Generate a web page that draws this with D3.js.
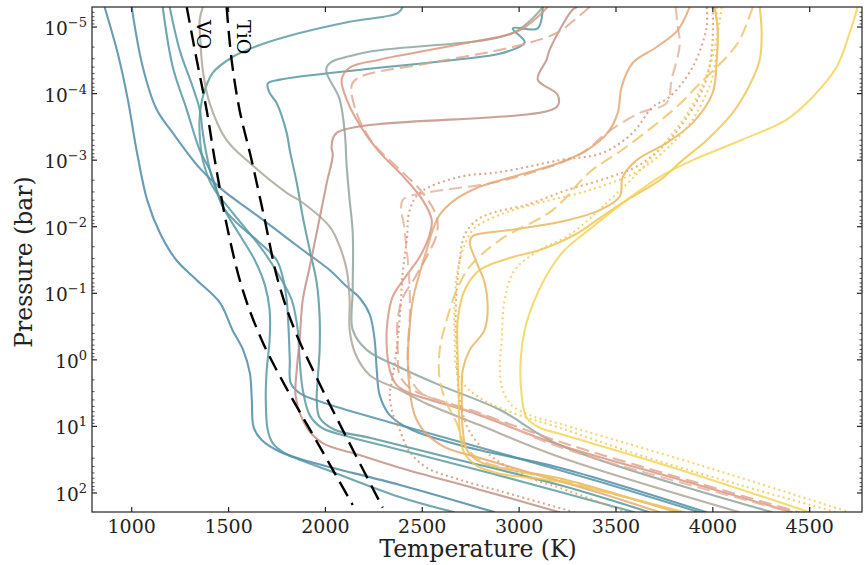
<!DOCTYPE html>
<html><head><meta charset="utf-8">
<script src="https://cdn.jsdelivr.net/npm/d3@7"></script>
<style>
body{margin:0;background:#fff;}
svg{display:block;}
text{font-family:"DejaVu Serif",serif;fill:#222;}
</style></head><body>
<svg id="chart" width="865" height="565"></svg>
<script>
// ---------- axis settings / ticks ----------
const xTicks = [1000, 1500, 2000, 2500, 3000, 3500, 4000, 4500];
const yTickExponents = [-5, -4, -3, -2, -1, 0, 1, 2];
const tempDomain = [795, 4770];        // K
const pressureDomain = [5e-6, 193];    // bar

// ---------- temperature-pressure profiles: [T (K), log10 P (bar)] ----------
const blue1   = [[860,-5.30],[930,-4.58],[980,-3.91],[1025,-3.15],[1080,-2.40],[1145,-1.91],[1230,-1.50],[1335,-1.20],[1455,-0.86],[1520,-0.45],[1575,-0.15],[1610,0.20],[1620,0.60],[1630,1.02],[1670,1.20],[1765,1.38],[1920,1.53],[2385,1.88],[2875,2.29]];
const blue2   = [[1000,-5.30],[1057,-4.40],[1129,-3.76],[1212,-3.41],[1351,-2.88],[1470,-2.55],[1609,-2.25],[1748,-1.95],[1883,-1.65],[2022,-1.35],[2100,-1.13],[2177,-0.93],[2229,-0.68],[2254,-0.30],[2265,0.15],[2280,0.53],[2332,0.83],[2445,1.05],[2745,1.32],[3209,1.62],[3968,2.29]];
const teal1   = [[1160,-5.30],[1212,-4.40],[1284,-3.76],[1351,-3.15],[1403,-2.85],[1439,-2.55],[1470,-2.30],[1542,-2.06],[1645,-1.80],[1748,-1.50],[1779,-1.25],[1800,-0.90],[1810,-0.45],[1816,0.00],[1821,0.35],[1867,0.50],[2007,0.66],[2383,0.98],[2900,1.40],[3416,1.83],[3932,2.29]];
const teal2   = [[1196,-5.30],[1248,-4.65],[1315,-4.10],[1351,-3.76],[1367,-3.41],[1382,-3.15],[1418,-2.70],[1480,-2.25],[1557,-1.88],[1635,-1.50],[1687,-1.13],[1712,-0.75],[1712,-0.30],[1697,0.15],[1692,0.60],[1702,1.05],[1728,1.25],[1790,1.40],[2007,1.65],[2383,2.06],[2667,2.29]];
const teal3   = [[2399,-5.30],[2373,-5.21],[2125,-5.08],[1867,-4.91],[1661,-4.73],[1521,-4.55],[1418,-4.31],[1367,-3.95],[1351,-3.65],[1351,-3.38],[1367,-3.00],[1418,-2.60],[1521,-2.21],[1676,-1.65],[1764,-1.25],[1826,-0.90],[1857,-0.45],[1867,0.00],[1883,0.45],[1919,0.83],[1981,1.02],[2125,1.16],[2383,1.35],[2900,1.74],[3597,2.29]];
const teal4   = [[3122,-5.30],[3096,-4.98],[2967,-4.98],[3029,-4.77],[2915,-4.61],[2796,-4.55],[1764,-4.21],[1702,-4.15],[1712,-4.01],[1748,-3.86],[1800,-3.41],[1816,-3.15],[1852,-2.66],[1883,-2.15],[1919,-1.65],[1955,-1.16],[1970,-0.65],[1970,-0.15],[1960,0.30],[1955,0.60],[1970,0.87],[2048,1.05],[2229,1.17],[2642,1.47],[3209,1.88],[3674,2.29]];
const grey1   = [[1367,-5.30],[1351,-5.11],[1356,-4.73],[1367,-4.35],[1403,-3.85],[1490,-3.30],[1609,-2.96],[1800,-2.51],[1883,-2.36],[2022,-2.00],[2074,-1.70],[2110,-1.35],[2125,-0.90],[2125,-0.45],[2156,-0.08],[2229,0.23],[2383,0.45],[2523,0.66],[2796,0.98],[3209,1.46],[4139,2.29]];
const grey2   = [[3122,-5.30],[2967,-4.91],[2192,-4.61],[2007,-4.40],[2074,-3.91],[2100,-3.41],[2110,-2.90],[2125,-2.40],[2141,-1.91],[2141,-1.05],[2141,-0.45],[2213,-0.15],[2383,0.11],[2590,0.38],[2900,0.75],[3209,1.28],[4309,2.29]];
const brown1  = [[3302,-5.30],[3276,-5.26],[3158,-4.66],[3142,-4.51],[3096,-4.21],[3199,-3.98],[3194,-3.80],[2058,-3.41],[2032,-3.20],[2038,-3.08],[2007,-2.66],[1955,-1.91],[1919,-1.40],[1883,-0.90],[1867,-0.30],[1852,0.15],[1847,0.56],[1903,1.01],[1986,1.25],[2177,1.43],[2383,1.62],[2796,1.95],[3209,2.29]];
const salmon1 = [[3147,-5.30],[3003,-4.95],[2745,-4.77],[2280,-4.51],[2125,-4.39],[2084,-4.21],[2110,-3.91],[2177,-3.53],[2270,-3.15],[2409,-2.73],[2502,-2.40],[2549,-2.10],[2538,-1.88],[2487,-1.55],[2409,-1.23],[2347,-0.95],[2321,-0.60],[2316,-0.23],[2332,0.15],[2368,0.38],[2435,0.50],[2538,0.60],[2745,0.78],[3209,1.28],[3829,1.80],[4412,2.29]];
const salmon2 = [[3364,-5.30],[3287,-5.11],[3194,-4.91],[2967,-4.70],[2538,-4.46],[2177,-4.25],[2136,-4.13],[2161,-3.71],[2244,-3.26],[2368,-2.90],[2502,-2.51],[2574,-2.15],[2574,-1.88],[2528,-1.58],[2461,-1.23],[2399,-0.93],[2373,-0.60],[2373,-0.15],[2383,0.23],[2435,0.42],[2538,0.56],[2745,0.75],[3209,1.23],[3829,1.77],[4448,2.29]];
const salmon3 = [[3808,-5.30],[3818,-5.03],[3829,-4.73],[3787,-4.21],[3762,-3.86],[3622,-3.71],[3452,-3.41],[3328,-3.11],[3106,-2.85],[2864,-2.66],[2523,-2.51],[2399,-2.40],[2409,-1.95],[2425,-1.50],[2435,-1.05],[2435,-0.60],[2425,-0.15],[2435,0.23],[2487,0.48],[2616,0.65],[2848,0.87],[3209,1.31],[4412,2.29]];
const salmon4 = [[3968,-5.30],[3968,-5.00],[3896,-4.40],[3777,-3.95],[3690,-3.80],[3586,-3.41],[3431,-3.11],[3209,-3.00],[2900,-2.82],[2693,-2.75],[2487,-2.51],[2435,-2.25],[2420,-1.80],[2399,-1.31],[2388,-0.80],[2373,-0.30],[2347,0.26],[2332,0.53],[2347,0.80],[2383,1.05],[2435,1.38],[2523,1.62],[2693,1.80],[2900,1.97],[3287,2.29]];
const orange1 = [[3880,-5.30],[3818,-4.95],[3710,-4.70],[3586,-4.46],[3529,-4.10],[3509,-3.71],[3457,-3.41],[3349,-3.15],[3209,-2.96],[3003,-2.78],[2796,-2.60],[2667,-2.40],[2590,-2.18],[2554,-1.95],[2523,-1.65],[2487,-1.31],[2451,-0.90],[2435,-0.50],[2425,0.00],[2435,0.45],[2461,0.83],[2512,1.08],[2616,1.31],[2781,1.46],[3039,1.68],[3416,2.00],[3726,2.29]];
const orange2 = [[3999,-5.30],[3999,-4.81],[3973,-4.28],[3906,-3.83],[3777,-3.31],[3622,-2.93],[3452,-2.73],[3246,-2.55],[3039,-2.33],[2864,-2.21],[2781,-2.10],[2719,-1.88],[2693,-1.50],[2678,-1.05],[2672,-0.60],[2678,-0.15],[2683,0.30],[2704,0.75],[2745,1.08],[2848,1.43],[3054,1.77],[3209,1.92],[3555,2.29]];
const amber1  = [[4009,-5.30],[4025,-4.95],[4020,-4.51],[3999,-4.01],[3896,-3.56],[3762,-3.26],[3607,-3.00],[3535,-2.75],[3519,-2.45],[3416,-2.25],[3209,-2.07],[2951,-1.95],[2760,-1.86],[2745,-1.77],[2781,-1.46],[2822,-1.16],[2838,-0.80],[2822,-0.45],[2745,-0.15],[2709,0.15],[2704,0.60],[2709,1.05],[2730,1.35],[2796,1.53],[2951,1.65],[3209,1.78],[3813,2.29]];
const yellow1 = [[4242,-5.30],[4252,-4.91],[4242,-4.51],[4190,-4.13],[4102,-3.71],[3968,-3.30],[3844,-3.00],[3726,-2.70],[3555,-2.40],[3416,-2.13],[3287,-1.88],[3106,-1.65],[2951,-1.53],[2796,-1.35],[2719,-1.05],[2683,-0.60],[2683,0.00],[2688,0.60],[2693,1.05],[2714,1.38],[2781,1.59],[2900,1.71],[3209,1.83],[3854,2.29]];
const yellow2 = [[4206,-5.30],[4139,-4.81],[4071,-4.55],[3932,-4.15],[3813,-3.80],[3710,-3.55],[3535,-3.16],[3364,-2.82],[3173,-2.25],[2900,-1.80],[2745,-1.40],[2678,-1.05],[2626,-0.60],[2590,-0.15],[2590,0.30],[2626,0.65],[2678,0.95],[2719,1.28],[2796,1.50],[3003,1.68],[3209,1.80],[3829,2.29]];
const yellow3 = [[4748,-5.30],[4706,-4.91],[4639,-4.40],[4515,-3.95],[4381,-3.61],[4154,-3.31],[3896,-3.00],[3726,-2.75],[3555,-2.40],[3380,-2.00],[3235,-1.65],[3158,-1.35],[3080,-0.90],[3029,-0.45],[3008,0.00],[3013,0.53],[3039,0.87],[3106,1.02],[3209,1.11],[3829,1.65],[4500,2.29]];
const yellow4 = [[4020,-5.30],[4025,-4.81],[3999,-4.25],[3968,-4.01],[3896,-3.61],[3793,-3.26],[3622,-2.85],[3364,-2.55],[3106,-2.36],[2900,-2.18],[2771,-1.98],[2719,-1.73],[2683,-1.35],[2667,-0.90],[2667,-0.30],[2678,0.15],[2719,0.38],[2796,0.57],[2951,0.78],[3209,1.02],[3622,1.43],[4139,1.88],[4639,2.29]];
const yellow5 = [[4046,-5.30],[3994,-4.51],[3880,-3.76],[3674,-3.00],[3467,-2.40],[3261,-1.88],[3106,-1.65],[2977,-1.35],[2925,-0.90],[2910,-0.30],[2900,0.15],[2915,0.45],[2961,0.68],[3054,0.83],[3209,0.96],[3932,1.58],[4706,2.29]];
// condensation curves
const voCurve  = [[1284,-5.30],[1336,-4.50],[1387,-3.75],[1429,-3.00],[1496,-1.95],[1573,-1.05],[1671,-0.30],[1790,0.38],[1960,1.25],[2141,2.18]];
const tioCurve = [[1490,-5.30],[1516,-4.50],[1557,-3.75],[1619,-3.00],[1687,-2.10],[1754,-1.20],[1841,-0.45],[1960,0.30],[2115,1.20],[2296,2.22]];

const profiles = [blue1, blue2, teal1, teal2, teal3, teal4, grey1, grey2, brown1,
                  salmon1, salmon2, salmon3, salmon4, orange1, orange2, amber1,
                  yellow1, yellow2, yellow3, yellow4, yellow5];
const profileColors = ["#4785a6","#4a89a6","#4d91a3","#5095a1","#55999e","#4f9499","#a9a295","#8aa29a","#bf8e82",
                       "#d9927e","#e0a48e","#e5b29a","#d69274","#e2a670","#dea25e","#e8b45c",
                       "#efc54e","#ecc46a","#f4d350","#f0c850","#f2cd55"];
const profileDash = ["","","","","","","","","",
                     "","13,6","13,6","2,3.3","","2,3.3","",
                     "","13,6","","2,3.3","2,3.3"];

// ---------- layout ----------
const M = {left: 92, right: 862, top: 7, bottom: 512};
const svg = d3.select("#chart");
const x = d3.scaleLinear().domain(tempDomain).range([M.left, M.right]);
const y = d3.scaleLog().domain(pressureDomain).range([M.top, M.bottom]);

svg.append("defs").append("clipPath").attr("id","clip")
  .append("rect").attr("x",M.left).attr("y",M.top)
  .attr("width",M.right-M.left).attr("height",M.bottom-M.top);

const line = d3.line()
  .x(d => x(d[0]))
  .y(d => y(Math.pow(10, d[1])))
  .curve(d3.curveCatmullRom.alpha(0.5));

const plot = svg.append("g").attr("clip-path","url(#clip)");
profiles.forEach((p, i) => {
  plot.append("path").datum(p)
    .attr("d", line)
    .attr("fill","none")
    .attr("stroke", profileColors[i])
    .attr("stroke-opacity", 0.82)
    .attr("stroke-width", 2.1)
    .attr("stroke-dasharray", profileDash[i] || null);
});
[voCurve, tioCurve].forEach(c => {
  plot.append("path").datum(c)
    .attr("d", line)
    .attr("fill","none")
    .attr("stroke","#000")
    .attr("stroke-width",2.4)
    .attr("stroke-dasharray","16,8");
});

// condensation labels
[["VO", voCurve], ["TiO", tioCurve]].forEach(([lab, c]) => {
  svg.append("text")
    .attr("transform", `translate(${x(c[0][0]) + 10},${y(1e-5) - 7}) rotate(90)`)
    .style("font-size","19px").style("fill","#000")
    .text(lab);
});

// ---------- frame & ticks ----------
const axisColor = "#222";
svg.append("rect").attr("x",M.left).attr("y",M.top)
  .attr("width",M.right-M.left).attr("height",M.bottom-M.top)
  .attr("fill","none").attr("stroke",axisColor).attr("stroke-width",1.2);

const tk = svg.append("g").attr("stroke",axisColor).attr("stroke-width",1.2);
xTicks.forEach(t => {
  const px = x(t);
  tk.append("line").attr("x1",px).attr("x2",px).attr("y1",M.bottom).attr("y2",M.bottom-5);
  tk.append("line").attr("x1",px).attr("x2",px).attr("y1",M.top).attr("y2",M.top+5);
  svg.append("text").attr("x",px).attr("y",533).attr("text-anchor","middle")
    .style("font-size","19px").text(t);
});
yTickExponents.forEach(e => {
  const py = y(Math.pow(10, e));
  tk.append("line").attr("x1",M.left).attr("x2",M.left+5).attr("y1",py).attr("y2",py);
  tk.append("line").attr("x1",M.right).attr("x2",M.right-5).attr("y1",py).attr("y2",py);
  const t = svg.append("text").attr("x",87).attr("y",py+8).attr("text-anchor","end")
    .style("font-size","18.5px");
  t.append("tspan").text("10");
  t.append("tspan").attr("dy",-8).style("font-size","13px")
    .text(e < 0 ? "\u2212" + (-e) : String(e));
});
// minor log ticks
for (let e = -6; e <= 2; e++) {
  for (let m = 2; m <= 9; m++) {
    const p = m * Math.pow(10, e);
    if (p < pressureDomain[0] || p > pressureDomain[1]) continue;
    const py = y(p);
    tk.append("line").attr("x1",M.left).attr("x2",M.left+2.5).attr("y1",py).attr("y2",py).attr("stroke-width",0.8);
    tk.append("line").attr("x1",M.right).attr("x2",M.right-2.5).attr("y1",py).attr("y2",py).attr("stroke-width",0.8);
  }
}

// axis labels
svg.append("text").attr("x",478).attr("y",557).attr("text-anchor","middle")
  .style("font-size","23.5px").text("Temperature (K)");
svg.append("text").attr("transform","translate(32,262) rotate(-90)").attr("text-anchor","middle")
  .style("font-size","23.5px").text("Pressure (bar)");
</script>
</body></html>
